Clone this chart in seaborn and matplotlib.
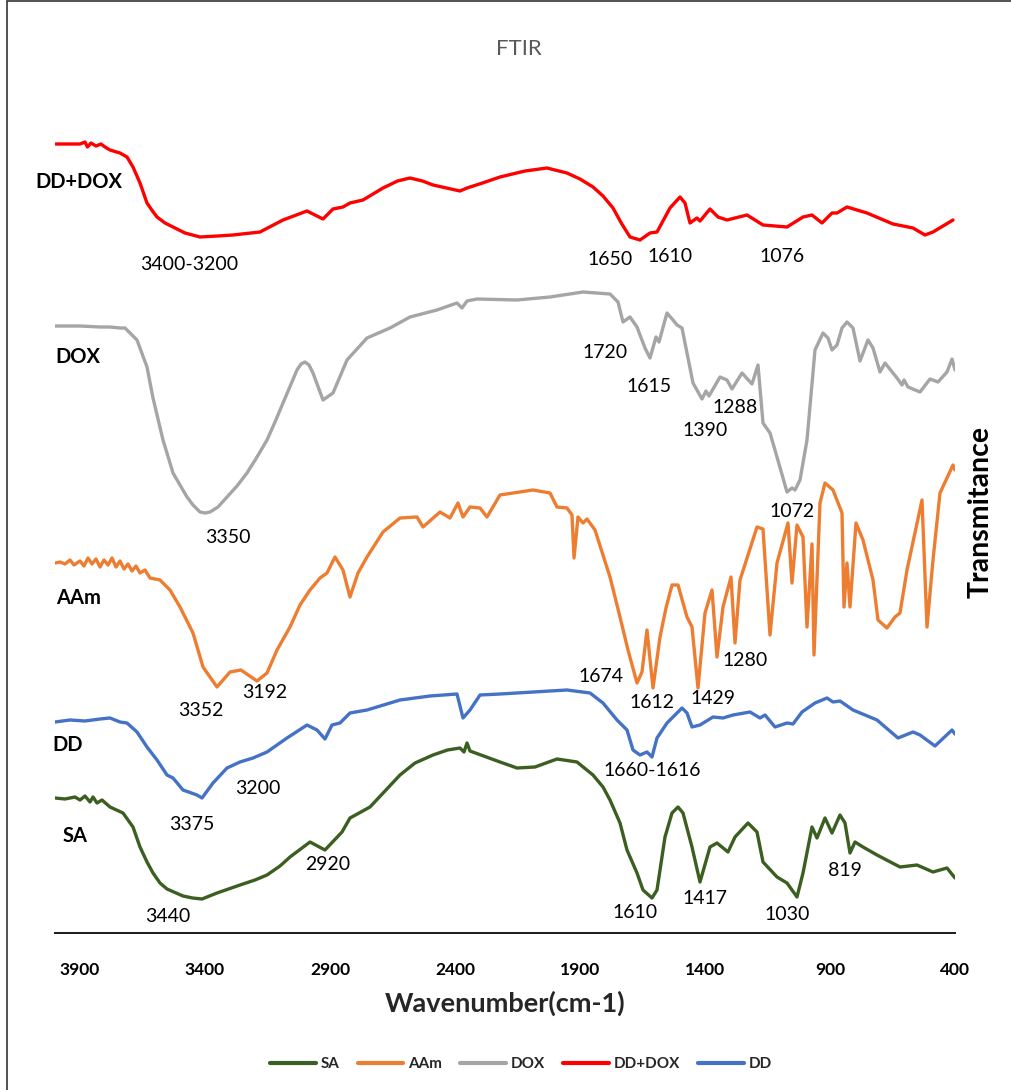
import numpy as np
import pandas as pd
import matplotlib
matplotlib.use("Agg")
import matplotlib.pyplot as plt
from matplotlib.patches import Rectangle
import seaborn as sns

# ---------------- data (wavenumber cm-1, stacked transmittance a.u.) ----------------
dddox_wn = [4000, 3940, 3900, 3880, 3870, 3856, 3836, 3816, 3800, 3780, 3740, 3712, 3688, 3660, 3632,
            3610, 3592, 3560, 3528, 3480, 3420, 3350,
            3288, 3180, 3088, 2992, 2928, 2888, 2848, 2820, 2768, 2688, 2630, 2580, 2530, 2488, 2380,
            2352, 2290, 2220, 2120,
            2032, 1952, 1900, 1848, 1808, 1768, 1735, 1700, 1660, 1620, 1592, 1540, 1500, 1480, 1460,
            1432, 1420, 1380,
            1348, 1312, 1232, 1168, 1072, 1008, 972, 932, 892, 872, 832, 752, 648, 568, 520, 488, 408]
dddox_t = [789, 789, 789, 791, 786, 790, 787, 789, 786, 783, 780, 776, 766, 750, 730,
           722, 716, 710, 706, 700, 696, 697,
           698, 701, 713, 722, 714, 724, 726, 730, 733, 745, 752, 755, 752, 748, 742,
           745, 750, 756, 762,
           765, 760, 754, 746, 737, 725, 710, 696, 693, 700, 701, 725, 736, 730, 710,
           715, 712, 724,
           716, 713, 718, 708, 706, 716, 718, 710, 720, 720, 726, 720, 709, 705, 698, 701, 713]

dox_wn = [4000, 3900, 3820, 3780, 3740, 3720, 3672, 3632, 3608, 3568, 3528, 3472, 3448, 3420, 3400,
          3380, 3348, 3312, 3272, 3232, 3192,
          3152, 3120, 3088, 3032, 3016, 3000, 2984, 2968, 2928, 2888, 2832, 2752, 2660, 2580, 2472,
          2392, 2372, 2352,
          2312, 2152, 2020, 1888, 1780, 1748, 1728, 1700, 1672, 1640, 1620, 1596, 1584, 1552, 1528,
          1512, 1492, 1472, 1448, 1412, 1396, 1384, 1340, 1312, 1292, 1252, 1212, 1188, 1168, 1140,
          1112, 1072, 1052, 1040, 1020, 992, 960, 928, 908, 892, 872, 852, 832, 808, 780,
          748, 728, 700, 680, 632, 612, 604, 588, 540, 500, 468, 432, 412, 400]
dox_t = [607, 607, 606, 606, 605, 605, 593, 566, 535, 493, 460, 436, 428, 421, 420,
         421, 426, 436, 447, 460, 476,
         493, 511, 530, 563, 569, 571, 568, 560, 533, 540, 573, 595, 605, 616, 623,
         630, 625, 632,
         634, 633, 636, 641, 639, 631, 611, 616, 606, 585, 575, 596, 591, 620, 613,
         608, 605, 580, 550, 534, 542, 537, 556, 553, 544, 560, 549, 568, 510, 500,
         476, 441, 445, 443, 453, 493, 583, 600, 595, 583, 588, 605, 611, 605, 572,
         593, 585, 561, 570, 555, 548, 553, 546, 541, 554, 551, 561, 574, 563]

aam_wn = [4000, 3980, 3960, 3940, 3924, 3900, 3884, 3868, 3852, 3836, 3820, 3804, 3788, 3772, 3756,
          3740, 3724, 3708, 3692, 3676, 3660,
          3640, 3620, 3580, 3540, 3500, 3448, 3408, 3352, 3300, 3256, 3192, 3152, 3112, 3060, 3020,
          2980, 2940, 2912, 2880, 2848, 2820, 2788, 2752, 2688, 2620, 2552, 2528, 2460, 2420, 2388,
          2368, 2340, 2300, 2272, 2220, 2088, 2020, 1992, 1952, 1932, 1924, 1908, 1888, 1872, 1840,
          1780, 1740, 1708, 1672, 1652, 1632, 1608, 1580, 1556, 1532, 1508, 1472, 1452, 1428, 1400,
          1372, 1352, 1328, 1296, 1280, 1260, 1192, 1168, 1140, 1112, 1068, 1052, 1032, 1008, 992,
          972, 964, 940, 920, 888, 852, 844, 832, 820, 796, 768, 728, 708, 672, 640,
          620, 592, 532, 512, 488, 460, 408, 400]
aam_t = [370, 371, 369, 373, 368, 372, 367, 375, 369, 374, 366, 373, 368, 375, 366,
         372, 364, 369, 362, 367, 360,
         363, 355, 353, 343, 326, 300, 266, 246, 261, 263, 252, 260, 283, 306, 328,
         343, 355, 360, 376, 363, 336, 360, 376, 401, 415, 416, 406, 421, 415, 430,
         416, 426, 425, 416, 438, 443, 440, 426, 425, 418, 375, 416, 410, 414, 403,
         356, 316, 283, 250, 261, 303, 245, 296, 325, 348, 348, 316, 306, 245, 320,
         343, 276, 326, 356, 290, 353, 406, 404, 298, 370, 410, 350, 408, 396, 306,
         389, 278, 430, 450, 443, 420, 326, 370, 326, 410, 393, 353, 313, 305, 316,
         320, 363, 433, 306, 373, 440, 468, 463]

dd_wn = [4000, 3940, 3880, 3820, 3780, 3740, 3712, 3672, 3632, 3592, 3552, 3528, 3488, 3432, 3412,
         3368, 3312, 3260, 3208, 3152, 3072, 2992, 2952, 2920, 2892, 2860, 2820, 2752, 2620, 2500,
         2392,
         2368, 2340, 2300, 2220, 2020, 1952, 1860, 1808, 1752, 1712, 1688, 1660, 1632, 1612, 1592,
         1552, 1492, 1472, 1452, 1420, 1368, 1328, 1288, 1220, 1180, 1160, 1120, 1072, 1048, 1012,
         960, 912, 888, 860, 808, 760, 712, 628, 568, 540, 480, 412, 400]
dd_t = [211, 213, 212, 214, 215, 211, 210, 201, 186, 173, 158, 155, 143, 138, 135,
        150, 165, 171, 175, 181, 195, 208, 203, 194, 208, 210, 220, 223, 233, 237,
        239,
        215, 223, 238, 239, 242, 243, 240, 230, 213, 203, 183, 178, 181, 176, 195,
        210, 225, 220, 206, 208, 216, 215, 218, 221, 215, 218, 206, 210, 209, 221,
        230, 235, 231, 232, 223, 218, 213, 195, 201, 198, 187, 203, 199]

sa_wn = [4000, 3960, 3920, 3900, 3880, 3860, 3848, 3832, 3812, 3780, 3728, 3688, 3660, 3632, 3608,
         3580, 3552, 3488, 3450, 3412, 3352, 3260, 3200, 3152, 3100, 3060, 2980, 2920, 2852, 2820,
         2740, 2680, 2620, 2560, 2488, 2430, 2380,
         2364, 2352, 2340, 2220, 2152, 2080, 1992, 1912, 1848, 1808, 1780, 1740, 1712, 1672, 1648,
         1612,
         1592, 1560, 1532, 1508, 1488, 1452, 1420, 1380, 1352, 1308, 1280, 1228, 1192, 1168, 1112,
         1072, 1032, 1008, 972, 952, 920, 892, 860, 840, 820, 800, 768, 712, 620, 552,
         488, 432, 400]
sa_t = [135, 134, 136, 133, 137, 131, 136, 130, 133, 126, 120, 106, 86, 71, 60,
        50, 44, 37, 35, 34, 40, 48, 53, 58, 67, 76, 91, 83, 101, 115,
        126, 142, 158, 170, 178, 183, 185,
        181, 190, 182, 171, 165, 166, 174, 171, 158, 146, 133, 110, 83, 60, 43,
        35,
        43, 96, 120, 126, 120, 86, 51, 86, 90, 81, 96, 110, 101, 71, 56,
        50, 36, 60, 106, 95, 115, 100, 118, 110, 80, 91, 86, 78, 66, 68,
        61, 65, 55]

samples = ["SA", "AAm", "DOX", "DD+DOX", "DD"]
colors = {"SA": "#3B5E21", "AAm": "#ED7D31", "DOX": "#A5A5A5", "DD+DOX": "#FF0000", "DD": "#4472C4"}

# peak annotations: text, wavenumber, transmittance
peak_labels = ["3400-3200", "1650", "1610", "1076",
               "1720", "1615", "1288", "1390", "3350", "1072",
               "1674", "1612", "1429", "1280", "3352", "3192",
               "3375", "3200", "1660-1616",
               "2920", "3440", "1610", "1417", "1030", "819"]
peak_x = [3464, 1780, 1540, 1092,
          1800, 1624, 1280, 1400, 3308, 1052,
          1816, 1612, 1368, 1240, 3416, 3160,
          3452, 3188, 1612,
          2908, 3548, 1680, 1400, 1072, 840]
peak_y = [669, 674, 677, 677,
          581, 547, 526, 503, 396, 422,
          256, 231, 234, 272, 223, 240,
          108, 145, 162,
          69, 17, 20, 34, 18, 63]

series_names = ["DD+DOX", "DOX", "AAm", "DD", "SA"]
series_x = [3904, 3908, 3904, 3948, 3920]
series_y = [751, 576, 335, 188, 97]

x_ticks = [3900, 3400, 2900, 2400, 1900, 1400, 900, 400]

# ---------------- build table ----------------
frames = []
for name, wn, t in [("SA", sa_wn, sa_t), ("AAm", aam_wn, aam_t), ("DOX", dox_wn, dox_t),
                    ("DD+DOX", dddox_wn, dddox_t), ("DD", dd_wn, dd_t)]:
    frames.append(pd.DataFrame({"wavenumber": wn, "T": t, "sample": name}))
df = pd.concat(frames, ignore_index=True)

# ---------------- plot ----------------
sns.set_theme(style="white")
plt.rcParams["font.family"] = ["Lato", "DejaVu Sans"]

W, H = 1011, 1090
fig = plt.figure(figsize=(W / 100, H / 100), dpi=100)
ax = fig.add_axes([55 / W, (H - 933) / H, 900 / W, 823 / H])

sns.lineplot(data=df, x="wavenumber", y="T", hue="sample", hue_order=samples,
             palette=colors, estimator=None, sort=False, linewidth=2.4, ax=ax)
for ln in ax.get_lines():
    ln.set_solid_joinstyle("round")
    ln.set_solid_capstyle("round")

ax.set_xlim(4000, 400)
ax.set_ylim(0, 823)
ax.set_xticks(x_ticks)
ax.set_xticklabels([str(v) for v in x_ticks], fontsize=12.5, fontweight="bold", color="#000000")
ax.tick_params(axis="x", length=0, pad=21)
ax.set_yticks([])
ax.set_ylabel("")
ax.set_xlabel("Wavenumber(cm-1)", fontsize=19.5, fontweight="bold", labelpad=9)
for s in ["top", "left", "right"]:
    ax.spines[s].set_visible(False)
ax.spines["bottom"].set_color("#1a1a1a")
ax.spines["bottom"].set_linewidth(1.4)
ax.grid(False)

for txt, x, y in zip(peak_labels, peak_x, peak_y):
    ax.text(x, y, txt, ha="center", va="center", fontsize=14, color="#000000")
for txt, x, y in zip(series_names, series_x, series_y):
    ax.text(x, y, txt, ha="center", va="center", fontsize=14.5, fontweight="bold", color="#000000")

fig.text(519 / W, 1 - 49 / H, "FTIR", ha="center", va="center", fontsize=16, color="#595959")
fig.text(981 / W, 1 - 512 / H, "Transmitance", ha="center", va="center", rotation=90,
         fontsize=20.5, fontweight="bold", color="#000000")

handles, labels = ax.get_legend_handles_labels()
if ax.get_legend():
    ax.get_legend().remove()
leg = fig.legend(handles, labels, loc="center", bbox_to_anchor=(521 / W, 1 - 1064 / H),
                 ncol=5, frameon=False, handlelength=3.0, handletextpad=0.3, columnspacing=1.2,
                 prop={"weight": "bold", "size": 11})
for line in leg.get_lines():
    line.set_linewidth(3)

fig.patches.append(Rectangle((7 / W, -0.1), 1.2, 1.1 - 1.5 / H, transform=fig.transFigure,
                             fill=False, edgecolor="#333333", linewidth=1.2))

fig.savefig("out.png", dpi=100, facecolor="white")
